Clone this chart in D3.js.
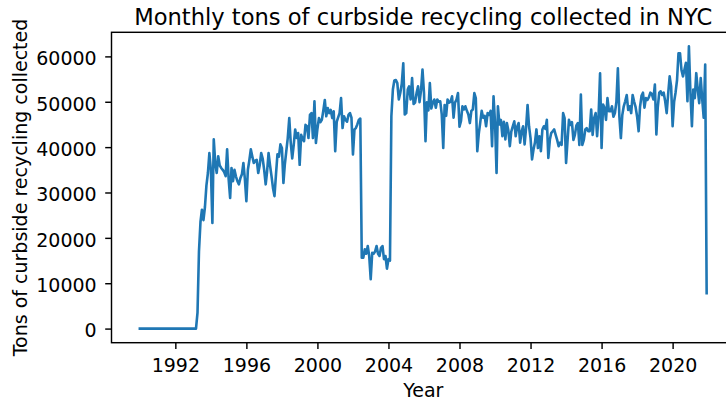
<!DOCTYPE html>
<html>
<head>
<meta charset="utf-8">
<script src="https://cdn.jsdelivr.net/npm/d3@7"></script>
<style>
  html, body { margin: 0; padding: 0; background: #fff; }
  svg { display: block; font-family: "DejaVu Sans", sans-serif; }
</style>
</head>
<body>
<div id="chart"></div>
<script>
// ---- Data (monthly, starting January 1990) ----
const startYear = 1990;
const startMonth = 0; // January
const tons = [
  0,0,0,0,0,0,0,0,0,0,
  0,0,0,0,0,0,0,0,0,0,
  0,0,0,0,0,0,0,0,0,0,
  0,0,0,0,0,0,0,0,0,
  3500, 17000, 23500, 26200, 23900, 26800, 31500, 34300, 38700, 35000,
  23300, 41700, 36500, 34300, 38000, 36000, 35400, 35000, 34500, 33600,
  39500, 33000, 28800, 35400, 32500, 35000, 33500, 32500, 31800, 33200,
  34000, 36500, 33000, 28100, 35000, 37000, 39500, 38000, 36500, 37000,
  37200, 34300, 36000, 38700, 37500, 35000, 31800, 34500, 38700, 36000,
  33600, 31000, 29200, 34000, 38400, 37900, 40600, 39800, 32100, 36100,
  39100, 42000, 46400, 41000, 37500, 40500, 43900, 42000, 43100, 36100,
  42700, 41800, 41300, 44900, 44600, 42000, 47100, 47500, 42000, 50100,
  40900, 44000, 46400, 45500, 46000, 48000, 50400, 46800, 48600, 47500,
  48200, 46400, 47900, 39100, 45600, 46500, 47500, 50800, 44200, 46800,
  46000, 45600, 47100, 47500, 46500, 38400, 43900, 44200, 45000, 46000,
  46300, 15600, 15600, 17500, 16500, 18200, 16000, 10900, 16700, 16500,
  17000, 18200, 16500, 16000, 17800, 18200, 15300, 16000, 13200, 15300,
  15000, 46800, 52700, 54700, 54800, 54100, 50500, 52000, 54000, 58500,
  47200, 47500, 52700, 53400, 50500, 55200, 49500, 49800, 51900, 53400,
  49900, 52500, 57100, 51900, 41300, 49900, 48100, 54100, 48500, 49800,
  50500, 48700, 50500, 50000, 50100, 47200, 39800, 49300, 46900, 50500,
  49800, 50000, 51200, 46500, 49800, 50500, 51900, 44500, 45800, 49000,
  48300, 49000, 48000, 47200, 45300, 48000, 48300, 51900, 50800, 39100,
  43000, 45300, 48000, 46500, 46900, 44600, 47500, 47100, 48000, 40200,
  51200, 45300, 34300, 49000, 45000, 46000, 42400, 45600, 41700, 45300,
  43700, 40200, 43400, 44600, 45700, 42400, 44500, 45300, 41000, 43400,
  44600, 40600, 44200, 49300, 44600, 42000, 37300, 39400, 41000, 43900,
  39800, 42400, 39100, 43900, 44600, 44000, 46000, 37600, 41600, 43100,
  43500, 43900, 42700, 41600, 40200, 41000, 40500, 47500, 46400, 36500,
  41600, 46000, 44900, 45500, 41600, 42700, 44800, 45300, 40500, 51600,
  40500, 41600, 43900, 44200, 43500, 43500, 48300, 42700, 46400, 47500,
  42400, 47200, 56300, 39800, 49400, 48700, 46000, 50800, 47900, 47900,
  49000, 46700, 47500, 50000, 57400, 46700, 42000, 47000, 49000, 50100,
  51500, 48200, 49000, 47500, 51500, 50000, 48800, 46700, 43500, 48800,
  51300, 52000, 48700, 50800, 50400, 51000, 52000, 51700, 50500, 53800,
  42800, 48700, 52000, 52300, 51500, 52000, 50100, 47500, 51700, 55600,
  53400, 44600, 50000, 52000, 54800, 60700, 60700, 57000, 55600, 57100,
  58600, 50100, 62200, 52000, 44600, 52700, 50800, 56300, 52700, 49700,
  55200, 50500, 46500, 58200, 7800
];
const xTickYears = [1992, 1996, 2000, 2004, 2008, 2012, 2016, 2020];
const yTickValues = [0, 10000, 20000, 30000, 40000, 50000, 60000];
const titleText = "Monthly tons of curbside recycling collected in NYC";
const xLabelText = "Year";
const yLabelText = "Tons of curbside recycling collected";

// ---- Layout ----
const W = 726, H = 402;
const plot = { left: 111.5, right: 735, top: 32.3, bottom: 342.7 };

const records = tons.map((v, i) => ({
  date: new Date(Date.UTC(startYear, startMonth + i, 1)),
  value: v
}));

// matplotlib-like 5% margins
const [d0, d1] = d3.extent(records, d => +d.date);
const dx = (d1 - d0) * 0.05;
const x = d3.scaleUtc()
  .domain([new Date(d0 - dx), new Date(d1 + dx)])
  .range([plot.left, plot.right]);

const [v0, v1] = d3.extent(records, d => d.value);
const dv = (v1 - v0) * 0.05;
const y = d3.scaleLinear()
  .domain([v0 - dv, v1 + dv])
  .range([plot.bottom, plot.top]);

const svg = d3.select("#chart").append("svg")
  .attr("width", W).attr("height", H);

const fontSize = 19;

// line
const line = d3.line()
  .x(d => x(d.date))
  .y(d => y(d.value));

svg.append("path")
  .datum(records)
  .attr("fill", "none")
  .attr("stroke", "#1f77b4")
  .attr("stroke-width", 2.6)
  .attr("stroke-linejoin", "round")
  .attr("stroke-linecap", "square")
  .attr("d", line);

// spines
svg.append("rect")
  .attr("x", plot.left).attr("y", plot.top)
  .attr("width", plot.right - plot.left)
  .attr("height", plot.bottom - plot.top)
  .attr("fill", "none")
  .attr("stroke", "#000")
  .attr("stroke-width", 1.44);

// x axis
const xAxis = d3.axisBottom(x)
  .tickValues(xTickYears.map(yr => new Date(Date.UTC(yr, 0, 1))))
  .tickFormat(d3.utcFormat("%Y"))
  .tickSize(6.3)
  .tickPadding(9.2);

const gx = svg.append("g")
  .attr("transform", `translate(0,${plot.bottom})`)
  .call(xAxis);
gx.select(".domain").remove();
gx.selectAll(".tick line").attr("stroke", "#000").attr("stroke-width", 1.44);
gx.selectAll(".tick text")
  .attr("fill", "#000")
  .style("font-family", "DejaVu Sans")
  .style("font-size", fontSize + "px");

// y axis
const yAxis = d3.axisLeft(y)
  .tickValues(yTickValues)
  .tickFormat(d3.format("d"))
  .tickSize(6.3)
  .tickPadding(8.5);

const gy = svg.append("g")
  .attr("transform", `translate(${plot.left},0)`)
  .call(yAxis);
gy.select(".domain").remove();
gy.selectAll(".tick line").attr("stroke", "#000").attr("stroke-width", 1.44);
gy.selectAll(".tick text")
  .attr("fill", "#000")
  .attr("dy", "0.44em")
  .style("font-family", "DejaVu Sans")
  .style("font-size", fontSize + "px");

// title
svg.append("text")
  .attr("x", (plot.left + plot.right) / 2)
  .attr("y", 24.5)
  .attr("text-anchor", "middle")
  .style("font-family", "DejaVu Sans")
  .style("font-size", "22.6px")
  .attr("fill", "#000")
  .text(titleText);

// x label
svg.append("text")
  .attr("x", (plot.left + plot.right) / 2)
  .attr("y", 397.3)
  .attr("text-anchor", "middle")
  .style("font-family", "DejaVu Sans")
  .style("font-size", fontSize + "px")
  .attr("fill", "#000")
  .text(xLabelText);

// y label
svg.append("text")
  .attr("transform", `translate(26.5,${(plot.top + plot.bottom) / 2}) rotate(-90)`)
  .attr("text-anchor", "middle")
  .style("font-family", "DejaVu Sans")
  .style("font-size", fontSize + "px")
  .attr("fill", "#000")
  .text(yLabelText);
</script>
</body>
</html>
